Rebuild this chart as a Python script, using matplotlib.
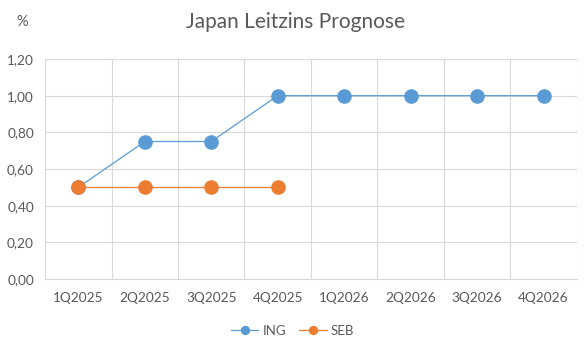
import numpy as np
import matplotlib
matplotlib.use("Agg")
import matplotlib.pyplot as plt

# Data
quarters = ['1Q2025', '2Q2025', '3Q2025', '4Q2025', '1Q2026', '2Q2026', '3Q2026', '4Q2026']
ing = [0.50, 0.75, 0.75, 1.00, 1.00, 1.00, 1.00, 1.00]
seb = [0.50, 0.50, 0.50, 0.50]
yticks = [0.0, 0.2, 0.4, 0.6, 0.8, 1.0, 1.2]

plt.rcParams['font.family'] = ['Lato', 'DejaVu Sans']
txt = '#595959'
grid = '#D9D9D9'

fig = plt.figure(figsize=(5.85, 3.42), dpi=100)
ax = fig.add_axes([0.077, 0.184, 0.909, 0.6435])

x = np.arange(len(quarters))
ax.plot(x, ing, color='#5B9BD5', lw=0.9, marker='o', ms=9.5, label='ING', zorder=3)
ax.plot(x[:len(seb)], seb, color='#ED7D31', lw=0.9, marker='o', ms=9.5, label='SEB', zorder=3)

ax.set_xlim(-0.5, len(quarters) - 0.5)
ax.set_ylim(0, 1.2)
ax.set_yticks(yticks)
ax.set_yticklabels([('%.2f' % v).replace('.', ',') for v in yticks])
ax.set_xticks(x)
ax.set_xticklabels(quarters)

# Excel style grid: horizontal at ticks, vertical at category boundaries
for v in yticks[1:]:
    ax.axhline(v, color=grid, lw=0.8, zorder=0)
for b in np.arange(-0.5, len(quarters), 1.0):
    ax.axvline(b, color=grid, lw=0.8, zorder=0)

for s in ['top', 'right', 'left']:
    ax.spines[s].set_visible(False)
ax.spines['bottom'].set_color(grid)
ax.tick_params(length=0, colors=txt, labelsize=9.8)
ax.tick_params(axis='x', pad=9)
ax.tick_params(axis='y', pad=8)

fig.text(0.505, 0.935, 'Japan Leitzins Prognose', ha='center', va='center', fontsize=15, color=txt)
fig.text(0.038, 0.935, '%', ha='center', va='center', fontsize=10.5, color=txt)

fig.legend(loc='center', bbox_to_anchor=(0.5, 0.032), ncol=2, frameon=False,
           fontsize=9.5, labelcolor=txt, markerscale=0.6, handlelength=2.1,
           columnspacing=1.0, handletextpad=0.3)

fig.savefig('out.png', dpi=100)
